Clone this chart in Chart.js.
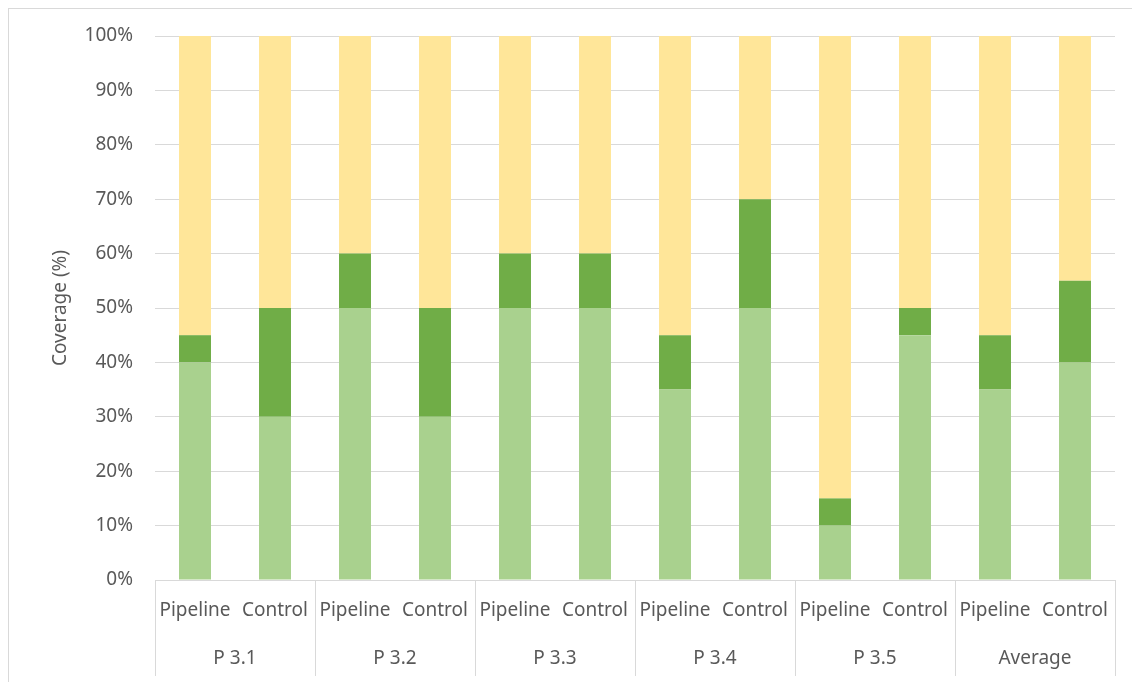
<!DOCTYPE html>
<html>
<head>
<meta charset="utf-8">
<script src="https://cdn.jsdelivr.net/npm/chart.js@4.4.1/dist/chart.umd.min.js"></script>
<style>
  html, body { margin: 0; padding: 0; background: #fff; }
  #wrap { position: relative; width: 1132px; height: 682px; overflow: hidden; }
  #frame { position: absolute; left: 8px; top: 8px; width: 1200px; height: 800px; border: 1px solid #d9d9d9; box-sizing: border-box; }
  canvas { position: absolute; left: 0; top: 0; }
</style>
</head>
<body>
<div id="wrap">
  <div id="frame"></div>
  <canvas id="chart" width="1132" height="682"></canvas>
</div>
<script>
// bar labels and group labels
var barLabels = ['Pipeline', 'Control', 'Pipeline', 'Control', 'Pipeline', 'Control',
                 'Pipeline', 'Control', 'Pipeline', 'Control', 'Pipeline', 'Control'];
var groupLabels = ['P 3.1', 'P 3.2', 'P 3.3', 'P 3.4', 'P 3.5', 'Average'];

// stacked shares (%), bottom to top
var lowerPart  = [40, 30, 50, 30, 50, 50, 35, 50, 10, 45, 35, 40];
var middlePart = [5, 20, 10, 20, 10, 10, 10, 20, 5, 5, 10, 15];
var upperPart  = [55, 50, 40, 50, 40, 40, 55, 30, 85, 50, 55, 45];

var yTicks = [0, 10, 20, 30, 40, 50, 60, 70, 80, 90, 100];

var textColour = '#595959';
var lineColour = '#d9d9d9';
var fontFamily = '"Noto Sans", "Open Sans", sans-serif';

// vertical separators between the groups, running down through both label rows
var groupSeparators = {
	id: 'groupSeparators',
	afterDraw: function(chart) {
		var x = chart.scales.x;
		var ctx = chart.ctx;
		var per = barLabels.length / groupLabels.length;
		ctx.save();
		ctx.strokeStyle = lineColour;
		ctx.lineWidth = 1;
		for (var i = 0; i <= groupLabels.length; i++) {
			var px = Math.round(x.getPixelForValue(i * per - 0.5)) + 0.5;
			ctx.beginPath();
			ctx.moveTo(px, chart.chartArea.bottom);
			ctx.lineTo(px, 676);
			ctx.stroke();
		}
		ctx.restore();
	}
};

var config = {
	type: 'bar',
	data: {
		labels: barLabels,
		datasets: [
			{ data: lowerPart, backgroundColor: '#a9d18e', barPercentage: 0.4, categoryPercentage: 1 },
			{ data: middlePart, backgroundColor: '#70ad47', barPercentage: 0.4, categoryPercentage: 1 },
			{ data: upperPart, backgroundColor: '#ffe699', barPercentage: 0.4, categoryPercentage: 1 }
		]
	},
	options: {
		responsive: false,
		animation: false,
		layout: { padding: { left: 0, right: 17, top: 36, bottom: 0 } },
		plugins: {
			legend: { display: false },
			tooltip: { enabled: false }
		},
		scales: {
			x: {
				stacked: true,
				grid: { display: false, drawTicks: false },
				border: { display: true, color: lineColour },
				ticks: {
					autoSkip: false, maxRotation: 0, padding: 19,
					color: textColour, font: { family: fontFamily, size: 19 }
				},
				afterFit: function(s) { s.height = 50; }
			},
			x2: {
				type: 'category',
				labels: groupLabels,
				position: 'bottom',
				offset: true,
				grid: { display: false, drawTicks: false },
				border: { display: false },
				ticks: {
					autoSkip: false, maxRotation: 0, padding: 17,
					color: textColour, font: { family: fontFamily, size: 19 }
				},
				afterFit: function(s) { s.height = 52; }
			},
			y: {
				stacked: true,
				min: 0,
				max: 100,
				afterBuildTicks: function(s) { s.ticks = yTicks.map(function(v) { return { value: v }; }); },
				grid: { color: lineColour, drawTicks: false },
				border: { display: false },
				ticks: {
					padding: 22,
					color: textColour,
					font: { family: fontFamily, size: 19 },
					callback: function(v) { return v + '%'; }
				},
				title: {
					display: true,
					text: 'Coverage (%)',
					color: textColour,
					font: { family: fontFamily, size: 19 },
					padding: { top: 49, bottom: 0 }
				},
				afterFit: function(s) { s.width = 155; }
			}
		}
	},
	plugins: [groupSeparators]
};

var ctx = document.getElementById('chart').getContext('2d');
window.myBar = new Chart(ctx, config);
</script>
</body>
</html>
